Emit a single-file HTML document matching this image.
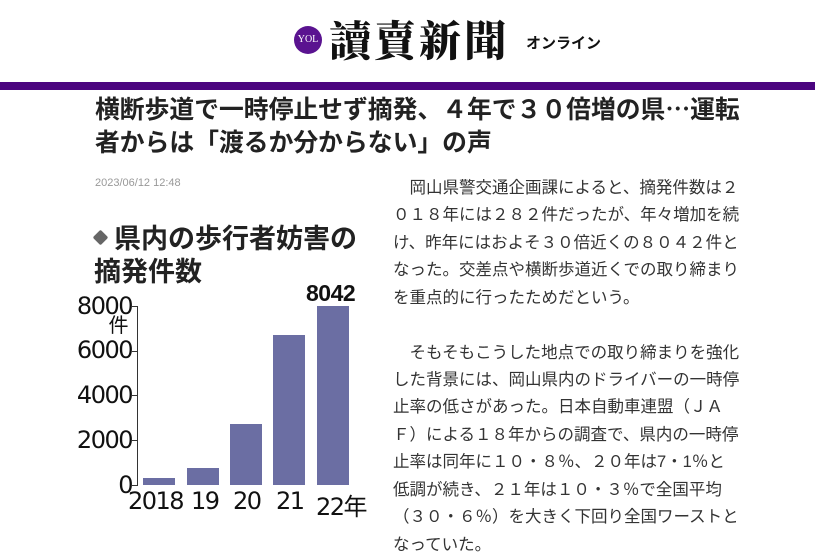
<!DOCTYPE html>
<html><head><meta charset="utf-8"><style>
body{margin:0;width:815px;height:560px;background:#fff;position:relative;overflow:hidden;font-family:"Liberation Sans","Noto Sans CJK JP",sans-serif}
.a{position:absolute;white-space:nowrap}
.t{font-size:16.5px;color:#333;left:393px;line-height:20px}
.bar{position:absolute;background:#6b6ea3;width:32px}
.tk{position:absolute;font-size:24px;color:#111;right:683px;line-height:24px;font-family:"DejaVu Sans","Noto Sans CJK JP",sans-serif;letter-spacing:-1.5px}
.yr{position:absolute;top:487px;font-size:24px;color:#111;font-family:"DejaVu Sans","Noto Sans CJK JP",sans-serif;letter-spacing:-1.5px}
</style></head><body>
<div class="a" style="left:294px;top:26px;width:28px;height:28px;border-radius:50%;background:#5a1390;color:#fff;font-size:10px;line-height:28px;text-align:center;font-family:'Liberation Serif',serif">YOL</div>
<div class="a" style="left:329px;top:14px;font-size:42px;line-height:50px;color:#111;font-family:'Noto Serif CJK SC',serif;font-weight:900;letter-spacing:3px">讀賣新聞</div>
<div class="a" style="left:526px;top:32px;font-size:15px;font-weight:bold;color:#111;font-family:'Noto Sans CJK JP',sans-serif">オンライン</div>
<div class="a" style="left:0;top:82px;width:815px;height:8px;background:#4b057f"></div>
<div class="a" style="left:95px;top:92px;font-size:24.8px;font-weight:bold;color:#222;line-height:33px;font-family:'Noto Sans CJK JP',sans-serif">横断歩道で一時停止せず摘発、４年で３０倍増の県…運転<br>者からは「渡るか分からない」の声</div>
<div class="a" style="left:95px;top:177px;font-size:11px;color:#999">2023/06/12 12:48</div>

<div class="a" style="left:94px;top:231px;width:13px;height:13px;background:#666;border-radius:2px;transform:rotate(45deg) scale(0.85)"></div>
<div class="a" style="left:114px;top:221px;font-size:27px;font-weight:bold;color:#222;line-height:32px;font-family:'Noto Sans CJK JP',sans-serif">県内の歩行者妨害の</div>
<div class="a" style="left:94px;top:254px;font-size:27px;font-weight:bold;color:#222;line-height:32px;font-family:'Noto Sans CJK JP',sans-serif">摘発件数</div>
<div class="a" style="left:306px;top:280px;font-size:23px;font-weight:bold;color:#111;letter-spacing:-0.5px">8042</div>
<div class="tk" style="top:294px">8000</div>
<div class="tk" style="top:313px;right:688px;font-size:20px">件</div>
<div class="tk" style="top:338px">6000</div>
<div class="tk" style="top:383px">4000</div>
<div class="tk" style="top:428px">2000</div>
<div class="tk" style="top:473px">0</div>
<div class="a" style="left:137px;top:306px;width:1px;height:180px;background:#333"></div>
<div class="a" style="left:132px;top:306px;width:5px;height:1px;background:#333"></div>
<div class="a" style="left:132px;top:351px;width:5px;height:1px;background:#333"></div>
<div class="a" style="left:132px;top:395px;width:5px;height:1px;background:#333"></div>
<div class="a" style="left:132px;top:440px;width:5px;height:1px;background:#333"></div>
<div class="a" style="left:132px;top:485px;width:5px;height:1px;background:#333"></div>
<div class="bar" style="left:143px;top:478px;height:7px"></div>
<div class="bar" style="left:187px;top:468px;height:17px"></div>
<div class="bar" style="left:230px;top:424px;height:61px"></div>
<div class="bar" style="left:273px;top:335px;height:150px"></div>
<div class="bar" style="left:317px;top:306px;height:179px"></div>
<div class="yr" style="left:128px">2018</div>
<div class="yr" style="left:191px">19</div>
<div class="yr" style="left:233px">20</div>
<div class="yr" style="left:276px">21</div>
<div class="yr" style="left:316px">22年</div>

<div class="a t" style="top:178px">　岡山県警交通企画課によると、摘発件数は２</div>
<div class="a t" style="top:205px">０１８年には２８２件だったが、年々増加を続</div>
<div class="a t" style="top:233px">け、昨年にはおよそ３０倍近くの８０４２件と</div>
<div class="a t" style="top:260px">なった。交差点や横断歩道近くでの取り締まり</div>
<div class="a t" style="top:288px">を重点的に行ったためだという。</div>
<div class="a t" style="top:343px">　そもそもこうした地点での取り締まりを強化</div>
<div class="a t" style="top:370px">した背景には、岡山県内のドライバーの一時停</div>
<div class="a t" style="top:397px">止率の低さがあった。日本自動車連盟（ＪＡ</div>
<div class="a t" style="top:425px">Ｆ）による１８年からの調査で、県内の一時停</div>
<div class="a t" style="top:452px">止率は同年に１０・８％、２０年は7・1％と</div>
<div class="a t" style="top:480px">低調が続き、２１年は１０・３％で全国平均</div>
<div class="a t" style="top:507px">（３０・６％）を大きく下回り全国ワーストと</div>
<div class="a t" style="top:535px">なっていた。</div>
</body></html>
